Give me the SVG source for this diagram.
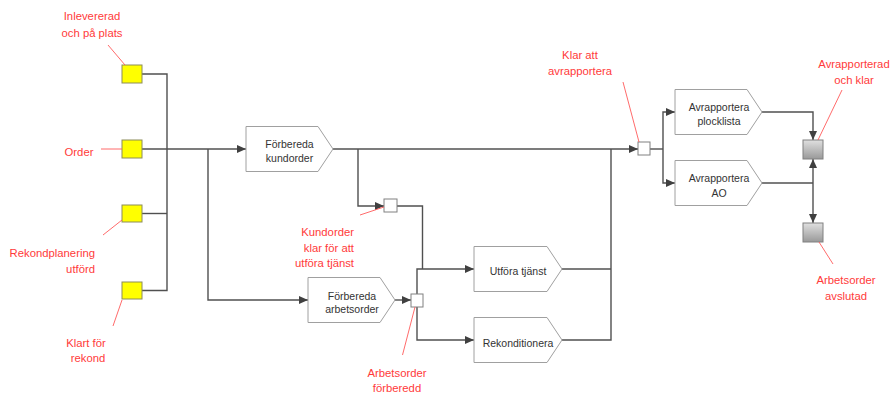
<svg xmlns="http://www.w3.org/2000/svg" width="892" height="394" viewBox="0 0 892 394">
<style>
.ln{fill:none;stroke:#505050;stroke-width:1.4}
.ld{fill:none;stroke:#FF5A5A;stroke-width:0.9}
.lb{font-family:"Liberation Sans",Arial,sans-serif;font-size:11.3px;fill:#FF3A3A;text-anchor:middle}
.nt{font-family:"Liberation Sans",Arial,sans-serif;font-size:10.5px;fill:#333;text-anchor:middle}
.pn{fill:#fff;stroke:#A0A0A0;stroke-width:1}
.ev{fill:#FFFF00;stroke:#8C8C5A;stroke-width:1}
.jn{fill:#fff;stroke:#808080;stroke-width:1}
.gr{fill:url(#g);stroke:#808080;stroke-width:1}
</style>
<defs>
<marker id="a" markerWidth="9" markerHeight="8" refX="9" refY="4" orient="auto" markerUnits="userSpaceOnUse"><path d="M0,0 L9,4 L0,8 z" fill="#404040"/></marker>
<linearGradient id="g" x1="0" y1="0" x2="0" y2="1"><stop offset="0" stop-color="#E0E0E0"/><stop offset="1" stop-color="#999"/></linearGradient>
</defs>
<g id="connectors">
<path class="ln" d="M142,74 H167 V290.5 H142"/>
<path class="ln" d="M142,213.5 H167"/>
<path class="ln" d="M142,149 H246" marker-end="url(#a)"/>
<path class="ln" d="M208,149 V300 H308" marker-end="url(#a)"/>
<path class="ln" d="M333,149 H638" marker-end="url(#a)"/>
<path class="ln" d="M358,149 V206 H384" marker-end="url(#a)"/>
<path class="ln" d="M397,206 H422.5 V269"/>
<path class="ln" d="M417,294 V269 H474" marker-end="url(#a)"/>
<path class="ln" d="M395,300 H411" marker-end="url(#a)"/>
<path class="ln" d="M417,307 V340 H474" marker-end="url(#a)"/>
<path class="ln" d="M562,269 H611"/>
<path class="ln" d="M562,340 H611 V149"/>
<path class="ln" d="M650,149 H663"/>
<path class="ln" d="M663,149 V112 H675" marker-end="url(#a)"/>
<path class="ln" d="M663,149 V183 H675" marker-end="url(#a)"/>
<path class="ln" d="M762,112 H813 V140" marker-end="url(#a)"/>
<path class="ln" d="M762,183 H813"/>
<path class="ln" d="M813,183 V159" marker-end="url(#a)"/>
<path class="ln" d="M813,183 V223" marker-end="url(#a)"/>
</g>
<g id="ev-inlevererad">
<rect class="ev" x="122" y="65" width="20" height="18"/>
<path class="ld" d="M108,45 L125,65"/>
<text class="lb" x="92" y="20">Inlevererad</text>
<text class="lb" x="92" y="37">och på plats</text>
</g>
<g id="ev-order">
<rect class="ev" x="122" y="140" width="20" height="18"/>
<path class="ld" d="M101,149 H122"/>
<text class="lb" x="79" y="156">Order</text>
</g>
<g id="ev-rekondplanering">
<rect class="ev" x="122" y="205" width="20" height="17"/>
<path class="ld" d="M103,235 L122,220"/>
<text class="lb" x="95" y="257" style="text-anchor:end">Rekondplanering</text>
<text class="lb" x="95" y="273" style="text-anchor:end">utförd</text>
</g>
<g id="ev-klart">
<rect class="ev" x="122" y="282" width="20" height="17"/>
<path class="ld" d="M113,326 L122,300"/>
<text class="lb" x="86" y="347">Klart för</text>
<text class="lb" x="88" y="362">rekond</text>
</g>
<g id="p-kundorder">
<path class="pn" d="M246,126.5 H318 L333,149 L318,171.5 H246 Z"/>
<text class="nt" x="289.5" y="148">Förbereda</text>
<text class="nt" x="289.5" y="162">kundorder</text>
</g>
<g id="j-kundorder-klar">
<rect class="jn" x="384" y="199" width="13" height="13"/>
<path class="ld" d="M360,215 L384,207"/>
<text class="lb" x="354" y="236" style="text-anchor:end">Kundorder</text>
<text class="lb" x="354" y="252" style="text-anchor:end">klar för att</text>
<text class="lb" x="354" y="267" style="text-anchor:end">utföra tjänst</text>
</g>
<g id="p-arbetsorder">
<path class="pn" d="M308,277.5 H380 L395,300 L380,322.5 H308 Z"/>
<text class="nt" x="352" y="299.5">Förbereda</text>
<text class="nt" x="352" y="313">arbetsorder</text>
</g>
<g id="j-arbetsorder-forberedd">
<rect class="jn" x="411" y="294" width="12" height="13"/>
<path class="ld" d="M402.5,355 L415,307"/>
<text class="lb" x="397" y="377">Arbetsorder</text>
<text class="lb" x="397" y="392">förberedd</text>
</g>
<g id="p-utfora">
<path class="pn" d="M474,246.5 H547 L562,269 L547,291.5 H474 Z"/>
<text class="nt" x="518" y="275">Utföra tjänst</text>
</g>
<g id="p-rekonditionera">
<path class="pn" d="M474,317.5 H547 L562,340 L547,362.5 H474 Z"/>
<text class="nt" x="518" y="346.5">Rekonditionera</text>
</g>
<g id="j-klar-avrapportera">
<rect class="jn" x="638" y="142" width="12" height="13"/>
<path class="ld" d="M623,82 L639,142"/>
<text class="lb" x="580" y="59">Klar att</text>
<text class="lb" x="580" y="75">avrapportera</text>
</g>
<g id="p-plocklista">
<path class="pn" d="M675,89.5 H747 L762,112 L747,134.5 H675 Z"/>
<text class="nt" x="719" y="111">Avrapportera</text>
<text class="nt" x="719" y="125">plocklista</text>
</g>
<g id="p-ao">
<path class="pn" d="M675,160.5 H747 L762,183 L747,205.5 H675 Z"/>
<text class="nt" x="719" y="181.5">Avrapportera</text>
<text class="nt" x="719" y="197">AO</text>
</g>
<g id="ev-avrapporterad">
<rect class="gr" x="803" y="140" width="20" height="19"/>
<path class="ld" d="M842,90 L818,140"/>
<text class="lb" x="854" y="68">Avrapporterad</text>
<text class="lb" x="854" y="84">och klar</text>
</g>
<g id="ev-avslutad">
<rect class="gr" x="803" y="223" width="20" height="19"/>
<path class="ld" d="M819,242 L833,264"/>
<text class="lb" x="846" y="284">Arbetsorder</text>
<text class="lb" x="846" y="300">avslutad</text>
</g>
</svg>
